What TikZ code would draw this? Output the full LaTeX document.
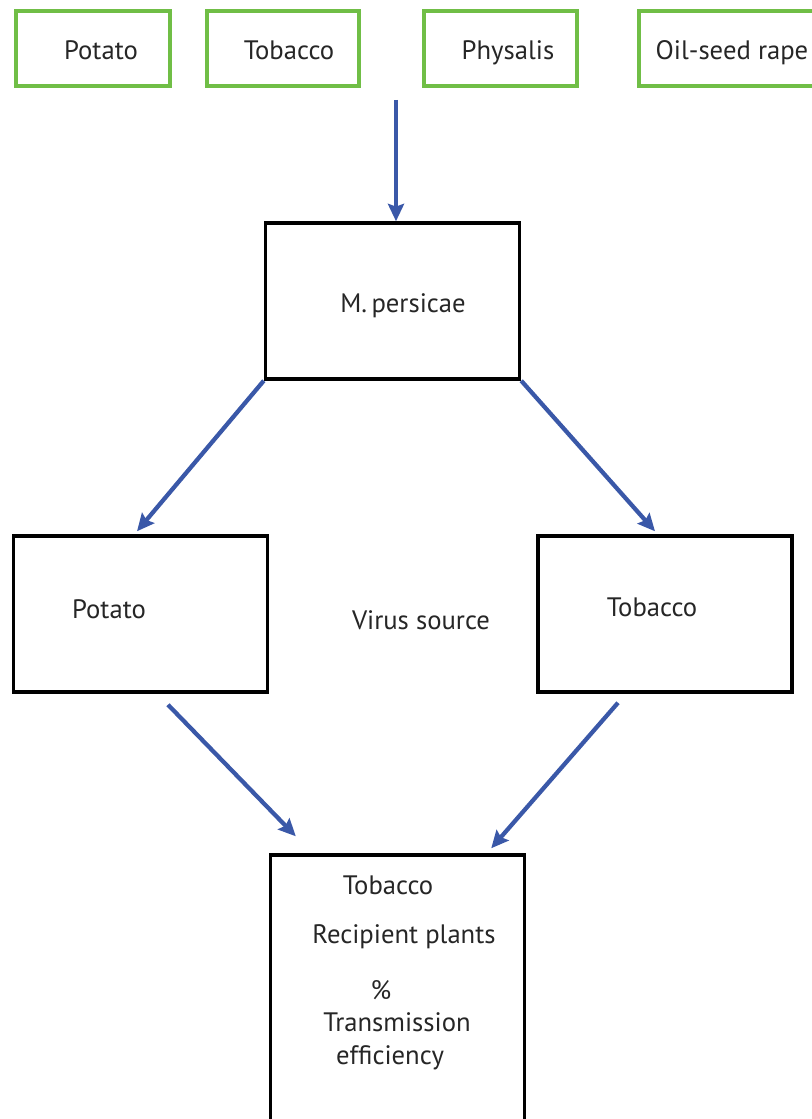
\documentclass[tikz,border=0pt]{standalone}
\usepackage{fontspec}
\setmainfont{PT Sans}
\usetikzlibrary{arrows.meta,calc}
\definecolor{leafgreen}{RGB}{112,190,70}
\definecolor{arrowblue}{RGB}{58,88,168}
\tikzset{
	hostbox/.style = {draw=leafgreen, line width=2.6pt, minimum height=56.25pt, inner sep=0pt},
	stagebox/.style = {draw=black, line width=2.6pt, minimum width=190.5pt, minimum height=117pt, inner sep=0pt},
	word/.style = {inner sep=0pt, text height=14pt, text depth=0pt, font=\fontsize{20}{24}\selectfont, text=black!85},
	flow/.style = {draw=arrowblue, line width=3.2pt, -{Stealth[length=13pt, width=12pt, inset=2pt]}}
}
\begin{document}
\begin{tikzpicture}[x=0.75pt, y=-0.75pt]
		\useasboundingbox (0,0) rectangle (811,1119);
		
		% host plants
		\node[hostbox, minimum width=115.5pt] (h1) at (93,48.5) {};
		\node[hostbox, minimum width=114pt] (h2) at (283,48.5) {};
		\node[hostbox, minimum width=114.75pt] (h3) at (500.5,48.5) {};
		\node[hostbox, minimum width=135pt] (h4) at (729,48.5) {};
		\node[word] (h1t) at (101,50) {Potato};
		\node[word] (h2t) at (289,50) {Tobacco};
		\node[word] (h3t) at (508,50) {Physalis};
		\node[word] (h4t) at (732,50) {Oil-seed rape};
		
		% aphid, sources, recipient
		\node[stagebox] (mp) at (392.5,301) {};
		\node[stagebox] (pot) at (140.5,614) {};
		\node[stagebox] (tob) at (665,614) {};
		\node[stagebox, minimum height=221.25pt] (rec) at (397.5,1002.5) {};
		
		\node[word] (mpt) at (403,303) {M.\,persicae};
		\node[word] (pott) at (109,609) {Potato};
		\node[word] (tobt) at (652,607) {Tobacco};
		\node[word] (src) at (421,620) {Virus source};
		\node[word] (rec1) at (388,885) {Tobacco};
		\node[word] (rec2) at (404,934) {Recipient plants};
		\node[word] (rec3) at (381,990) {\%};
		\node[word] (rec4) at (397,1022) {Transmission};
		\node[word] (rec5) at (390,1055) {efficiency};
		
		\coordinate (feed) at (396,100);
		\draw[flow] (feed) -- (feed |- mp.north);
		\draw[flow] (mp.south west) -- ($(pot.north)+(-3.5,-3)$);
		\draw[flow] (mp.south east) -- ($(tob.north)+(-10,-3)$);
		\draw[flow] ($(pot.south)+(27.5,11)$) -- ($(rec.north west)+(27,-17)$);
		\draw[flow] ($(tob.south)+(-47,9)$) -- ($(rec.north east)+(-35,-5)$);
	\end{tikzpicture}
\end{document}
